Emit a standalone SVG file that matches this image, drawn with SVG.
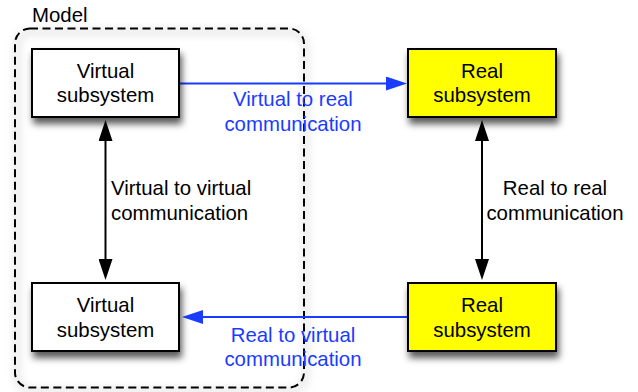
<svg xmlns="http://www.w3.org/2000/svg" width="638" height="392" viewBox="0 0 638 392">
  <defs>
    <style>
      text { font-family: "Liberation Sans", Arial, Helvetica, sans-serif; font-size: 20.4px; }
      .box { stroke: #000; stroke-width: 2; }
      .virtual { fill: #ffffff; }
      .real { fill: #ffff00; }
      .lbl { fill: #000; text-anchor: middle; }
      .blue { fill: #1a3cff; text-anchor: middle; }
      .black-line { stroke: #000; stroke-width: 2; fill: none; }
      .blue-line { stroke: #1a3cff; stroke-width: 2; fill: none; }
    </style>
    <filter id="shadow" x="-20%" y="-20%" width="150%" height="160%">
      <feDropShadow dx="2" dy="6" stdDeviation="3.5" flood-color="#000" flood-opacity="0.65"/>
    </filter>
    <filter id="softShadow" x="-10%" y="-10%" width="125%" height="125%">
      <feGaussianBlur stdDeviation="4"/>
    </filter>
    <marker id="headBlack" markerUnits="userSpaceOnUse" markerWidth="21" markerHeight="14" viewBox="0 0 21 14" refX="1" refY="7" orient="auto-start-reverse">
      <path d="M0,0 L21,7 L0,14 Z" fill="#000"/>
    </marker>
    <marker id="headBlue" markerUnits="userSpaceOnUse" markerWidth="21" markerHeight="14" viewBox="0 0 21 14" refX="1" refY="7" orient="auto">
      <path d="M0,0 L21,7 L0,14 Z" fill="#1a3cff"/>
    </marker>
  </defs>

  <rect width="638" height="392" fill="#ffffff"/>

  <!-- Model boundary -->
  <g id="model">
    <rect x="17" y="32" width="289" height="359" rx="15" fill="none" stroke="#000" stroke-opacity="0.12" stroke-width="5" filter="url(#softShadow)"/>
    <rect x="15" y="28.5" width="289" height="359" rx="15" fill="none" stroke="#000" stroke-width="2" stroke-dasharray="8,4.5"/>
    <text x="32" y="22">Model</text>
  </g>

  <!-- Connectors -->
  <g id="connectors">
    <path class="blue-line" d="M179,83.5 H387" marker-end="url(#headBlue)"/>
    <path class="blue-line" d="M408,317 H202" marker-end="url(#headBlue)"/>
    <path class="black-line" d="M105.5,140 V260" marker-start="url(#headBlack)" marker-end="url(#headBlack)"/>
    <path class="black-line" d="M482,140 V260" marker-start="url(#headBlack)" marker-end="url(#headBlack)"/>
    <text class="blue" x="293" y="106">Virtual to real</text>
    <text class="blue" x="293" y="130.5">communication</text>
    <text class="blue" x="293" y="342">Real to virtual</text>
    <text class="blue" x="293" y="366">communication</text>
    <text x="111" y="195">Virtual to virtual</text>
    <text x="111" y="219.5">communication</text>
    <text class="lbl" x="555" y="195">Real to real</text>
    <text class="lbl" x="555" y="219.5">communication</text>
  </g>

  <!-- Subsystems -->
  <g id="virtual-top">
    <rect class="box virtual" x="32" y="49" width="147" height="68" filter="url(#shadow)"/>
    <text class="lbl" x="105.5" y="77.5">Virtual</text>
    <text class="lbl" x="105.5" y="102">subsystem</text>
  </g>
  <g id="real-top">
    <rect class="box real" x="408" y="49" width="148" height="68" filter="url(#shadow)"/>
    <text class="lbl" x="482" y="77.5">Real</text>
    <text class="lbl" x="482" y="102">subsystem</text>
  </g>
  <g id="virtual-bottom">
    <rect class="box virtual" x="32" y="283" width="147" height="68" filter="url(#shadow)"/>
    <text class="lbl" x="105.5" y="311.5">Virtual</text>
    <text class="lbl" x="105.5" y="336.5">subsystem</text>
  </g>
  <g id="real-bottom">
    <rect class="box real" x="408" y="283" width="148" height="68" filter="url(#shadow)"/>
    <text class="lbl" x="482" y="311.5">Real</text>
    <text class="lbl" x="482" y="336.5">subsystem</text>
  </g>
</svg>
